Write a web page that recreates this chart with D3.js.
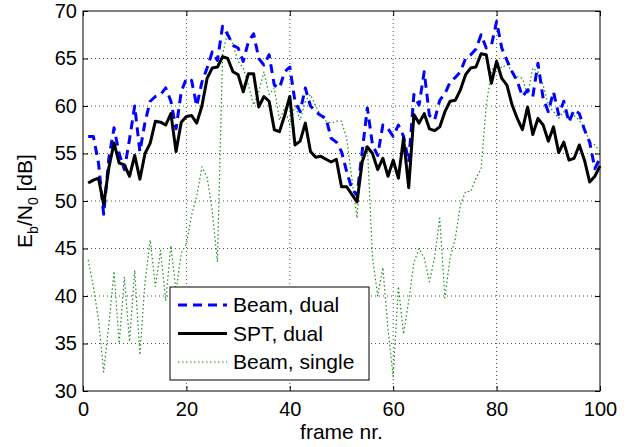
<!DOCTYPE html>
<html>
<head>
<meta charset="utf-8">
<script src="https://cdn.jsdelivr.net/npm/d3@7"></script>
<style>
  body { margin: 0; background: #fff; }
  text { font-family: "Liberation Sans", Arial, sans-serif; }
</style>
</head>
<body>
<div id="chart"></div>
<script>
// data, frames 1..100
var frames = d3.range(1, 101);

var beamDual = [56.8, 56.8, 54.0, 48.6, 54.5, 57.7, 55.0, 53.3, 56.5, 60.0,
    55.2, 58.3, 60.5, 61.0, 61.2, 61.9, 60.5, 57.6, 61.5, 62.9,
    62.7, 60.0, 62.5, 64.0, 65.7, 64.8, 68.4, 67.5, 66.4, 66.1,
    64.7, 66.8, 67.6, 65.0, 64.3, 65.4, 62.2, 61.9, 63.6, 64.1,
    60.5, 59.4, 61.9, 60.0, 59.4, 59.0, 58.7, 56.6, 56.2, 55.2,
    53.1, 51.3, 50.6, 55.2, 59.8, 55.9, 54.8, 58.0, 57.6, 56.8,
    58.0, 56.8, 54.1, 61.2, 60.1, 63.6, 59.0, 58.5, 60.6, 61.3,
    62.5, 63.0, 63.6, 65.0, 65.4, 66.0, 67.5, 66.1, 66.4, 68.9,
    66.1, 64.8, 63.6, 62.6, 61.0, 61.7, 61.0, 64.5, 60.8, 59.4,
    61.5, 59.1, 60.5, 58.3, 59.6, 59.2, 57.5, 56.2, 53.4, 54.5];

var sptDual = [51.9, 52.2, 52.4, 49.6, 53.5, 56.1, 54.0, 53.8, 52.6, 54.8,
    52.3, 55.0, 56.1, 58.4, 58.3, 58.0, 59.2, 55.2, 58.3, 58.9,
    59.0, 58.2, 60.0, 62.9, 64.0, 64.1, 65.2, 65.0, 63.6, 63.3,
    61.5, 63.4, 63.4, 59.9, 61.0, 60.5, 57.5, 57.3, 59.0, 61.0,
    55.9, 56.3, 58.2, 55.2, 54.6, 54.7, 54.4, 54.1, 54.4, 51.5,
    51.5, 50.7, 49.9, 54.1, 55.7, 55.0, 53.3, 54.5, 52.6, 54.3,
    52.4, 56.6, 51.4, 59.1, 58.2, 59.2, 57.6, 57.4, 57.8, 59.4,
    60.5, 60.6, 61.7, 63.3, 64.0, 64.1, 65.5, 65.4, 62.4, 64.7,
    62.9, 62.2, 60.1, 58.7, 57.5, 59.9, 57.0, 58.7, 58.0, 56.3,
    57.8, 55.1, 56.2, 54.3, 54.5, 55.9, 54.3, 52.0, 52.6, 53.7];

var beamSingle = [43.8, 41.0, 37.5, 32.0, 37.0, 42.6, 35.0, 42.0, 35.2, 42.7,
    33.8, 41.5, 45.9, 41.0, 44.8, 39.5, 45.3, 40.5, 44.5, 45.5,
    48.5, 50.5, 53.6, 52.5, 49.0, 43.6, 65.5, 67.8, 66.5, 64.7,
    64.0, 62.2, 60.1, 61.5, 63.6, 61.2, 61.9, 58.5, 59.8, 58.0,
    60.1, 58.5, 60.5, 61.2, 60.0, 59.0, 58.4, 58.2, 58.4, 58.4,
    56.6, 52.4, 48.2, 55.5, 55.8, 44.0, 40.0, 43.0, 36.5, 31.5,
    41.0, 36.0, 39.5, 43.5, 45.0, 44.0, 41.5, 44.0, 48.2, 39.8,
    44.0, 46.0, 49.6, 51.0, 51.0, 52.4, 53.4, 60.1, 63.6, 64.7,
    64.0, 64.4, 63.6, 63.1, 62.9, 61.2, 64.0, 63.6, 62.2, 60.1,
    59.4, 58.7, 59.4, 58.6, 59.0, 58.5, 57.6, 56.2, 55.9, 55.2];

var xTicks = [0, 20, 40, 60, 80, 100];
var yTicks = [30, 35, 40, 45, 50, 55, 60, 65, 70];

var seriesNames = ["Beam, dual", "SPT, dual", "Beam, single"];

// set the dimensions and margins of the graph
var margin = { top: 11, right: 38, bottom: 56, left: 83 },
    width = 638 - margin.left - margin.right,
    height = 447 - margin.top - margin.bottom;

var svg = d3.select("#chart")
    .append("svg")
    .attr("width", 638)
    .attr("height", 447)
    .append("g")
    .attr("transform", "translate(" + margin.left + "," + margin.top + ")");

var x = d3.scaleLinear().domain([0, 100]).range([0, width]);
var y = d3.scaleLinear().domain([30, 70]).range([height, 0]);

// grid, dotted like matlab
var grid = svg.append("g").attr("class", "grid");
grid.selectAll(".vx")
    .data(xTicks.slice(1, -1))
    .enter().append("line")
    .attr("x1", function (d) { return x(d); })
    .attr("x2", function (d) { return x(d); })
    .attr("y1", 0).attr("y2", height);
grid.selectAll(".hy")
    .data(yTicks.slice(1, -1))
    .enter().append("line")
    .attr("y1", function (d) { return y(d); })
    .attr("y2", function (d) { return y(d); })
    .attr("x1", 0).attr("x2", width);
grid.selectAll("line")
    .style("stroke", "#222")
    .style("stroke-width", 0.8)
    .style("stroke-dasharray", "1,3");

// axes with inward ticks on all four sides
var tickLen = 5;
var xAxis = svg.append("g")
    .attr("transform", "translate(0," + height + ")")
    .call(d3.axisBottom(x).tickValues(xTicks).tickSizeInner(-tickLen).tickSizeOuter(0).tickPadding(11));
var xAxisTop = svg.append("g")
    .call(d3.axisTop(x).tickValues(xTicks).tickSizeInner(-tickLen).tickSizeOuter(0).tickFormat(""));
var yAxis = svg.append("g")
    .call(d3.axisLeft(y).tickValues(yTicks).tickSizeInner(-tickLen).tickSizeOuter(0).tickPadding(6));
var yAxisRight = svg.append("g")
    .attr("transform", "translate(" + width + ",0)")
    .call(d3.axisRight(y).tickValues(yTicks).tickSizeInner(-tickLen).tickSizeOuter(0).tickFormat(""));

svg.selectAll(".domain").remove();
svg.selectAll(".tick line").style("stroke", "#000");
svg.selectAll(".tick text")
    .style("font-size", "20px")
    .style("fill", "#000");

// box
svg.append("rect")
    .attr("width", width)
    .attr("height", height)
    .style("fill", "none")
    .style("stroke", "#000")
    .style("stroke-width", 1);

// lines
var line = d3.line()
    .x(function (d, i) { return x(frames[i]); })
    .y(function (d) { return y(d); });

var styles = [
    { color: "#0000ff", width: 3, dash: "9,6" },
    { color: "#000000", width: 3, dash: null },
    { color: "#1a8c1a", width: 1.2, dash: "1.5,2.5" }
];
var allSeries = [beamDual, sptDual, beamSingle];
var drawOrder = [2, 0, 1];

drawOrder.forEach(function (k) {
    svg.append("path")
        .datum(allSeries[k])
        .attr("d", line)
        .style("fill", "none")
        .style("stroke", styles[k].color)
        .style("stroke-width", styles[k].width)
        .style("stroke-dasharray", styles[k].dash)
        .style("stroke-linejoin", "round");
});

// labels
svg.append("text")
    .attr("x", width / 2)
    .attr("y", height + 48)
    .attr("text-anchor", "middle")
    .style("font-size", "21px")
    .text("frame nr.");

var ylab = svg.append("text")
    .attr("transform", "translate(-51," + (height / 2) + ") rotate(-90)")
    .attr("text-anchor", "middle")
    .style("font-size", "21px");
ylab.append("tspan").text("E");
ylab.append("tspan").attr("baseline-shift", "-6").style("font-size", "14px").text("b");
ylab.append("tspan").text("/N");
ylab.append("tspan").attr("baseline-shift", "-6").style("font-size", "14px").text("0");
ylab.append("tspan").text(" [dB]");

// legend
var legend = svg.append("g")
    .attr("transform", "translate(" + (170 - margin.left) + "," + (287 - margin.top) + ")");
legend.append("rect")
    .attr("width", 199)
    .attr("height", 93)
    .style("fill", "#fff")
    .style("stroke", "#000")
    .style("stroke-width", 1);

var rows = legend.selectAll(".row")
    .data(seriesNames)
    .enter().append("g")
    .attr("transform", function (d, i) { return "translate(0," + (18 + i * 28.5) + ")"; });
rows.append("line")
    .attr("x1", 8).attr("x2", 57)
    .style("stroke", function (d, i) { return styles[i].color; })
    .style("stroke-width", function (d, i) { return styles[i].width; })
    .style("stroke-dasharray", function (d, i) { return styles[i].dash; });
rows.append("text")
    .attr("x", 63)
    .attr("dy", "0.35em")
    .style("font-size", "21px")
    .text(function (d) { return d; });
</script>
</body>
</html>
